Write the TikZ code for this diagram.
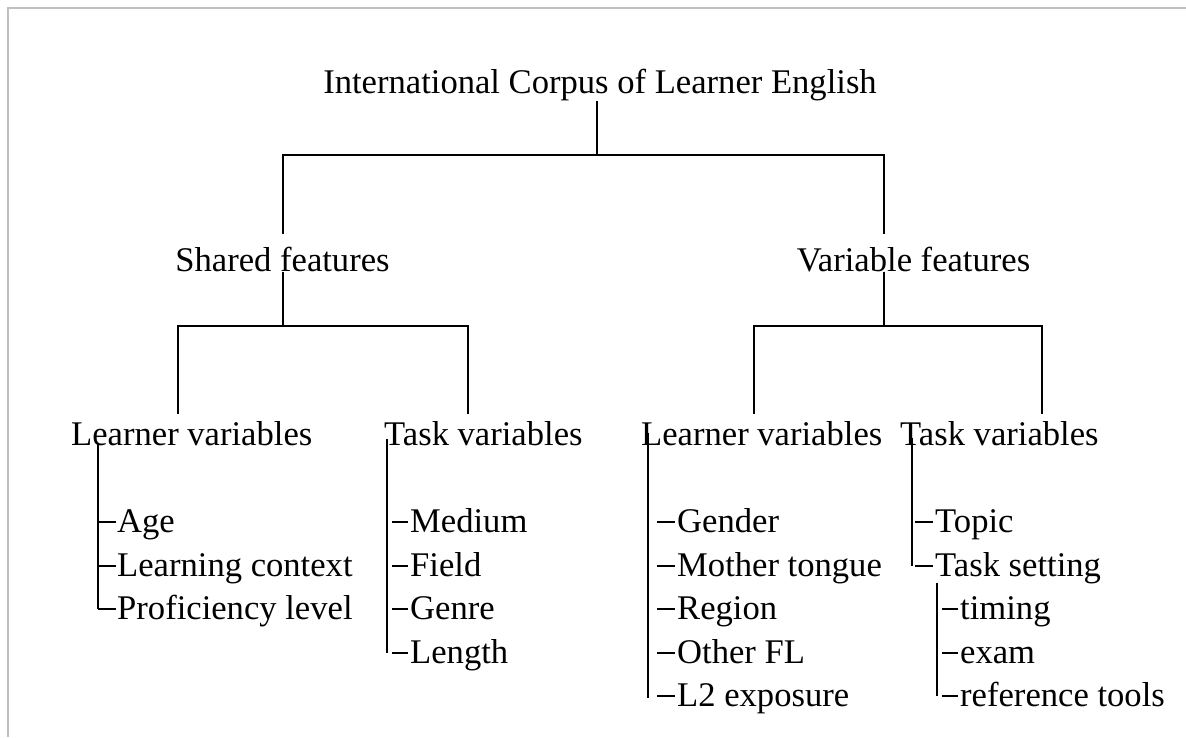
\documentclass[tikz,border=0pt]{standalone}
\usepackage{fontspec}
\setmainfont{Liberation Serif}
\definecolor{framegray}{RGB}{192,192,192}
\newcommand\tickto[3]{\draw[tick] ([xshift=-#2,yshift=10pt]#1.base west) -- ([xshift=-#3,yshift=10pt]#1.base west);}
\begin{document}
\begin{tikzpicture}[x=1pt,y=-1pt,
  conn/.style={line width=2pt},
  tick/.style={line width=1.8pt},
  lbl/.style={inner sep=0pt, font=\fontsize{34.6}{40}\selectfont}]
\useasboundingbox (0,0) rectangle (1186,737);
\fill[white] (0,0) rectangle (1186,737);
\draw[framegray, line width=1.2pt] (8,737) -- (8,8) -- (1186,8);

% main nodes
\node[lbl, anchor=base] (root) at (600,93) {International Corpus of Learner English};
\node[lbl, anchor=base] (sh) at (282.5,271) {Shared features};
\node[lbl, anchor=base] (vf) at (913.5,271) {Variable features};
\node[lbl, anchor=base west] (lv1) at (71,445) {Learner variables};
\node[lbl, anchor=base west] (tv1) at (384,445) {Task variables};
\node[lbl, anchor=base west] (lv2) at (641,445) {Learner variables};
\node[lbl, anchor=base west] (tv2) at (900,445) {Task variables};

% leaf items
\node[lbl, anchor=base west] (age) at (117,532) {Age};
\node[lbl, anchor=base west] (lcon) at (117,576) {Learning context};
\node[lbl, anchor=base west] (prof) at (117,619) {Proficiency level};

\node[lbl, anchor=base west] (med) at (410,532) {Medium};
\node[lbl, anchor=base west] (fld) at (410,576) {Field};
\node[lbl, anchor=base west] (gen) at (410,619) {Genre};
\node[lbl, anchor=base west] (len) at (410,663) {Length};

\node[lbl, anchor=base west] (gdr) at (677,532) {Gender};
\node[lbl, anchor=base west] (mt) at (677,576) {Mother tongue};
\node[lbl, anchor=base west] (reg) at (677,619) {Region};
\node[lbl, anchor=base west] (ofl) at (677,663) {Other FL};
\node[lbl, anchor=base west] (l2e) at (677,706) {L2 exposure};

\node[lbl, anchor=base west] (top) at (935,532) {Topic};
\node[lbl, anchor=base west] (tset) at (935,576) {Task setting};
\node[lbl, anchor=base west] (tim) at (960,619) {timing};
\node[lbl, anchor=base west] (exm) at (960,663) {exam};
\node[lbl, anchor=base west] (rt) at (960,706) {reference tools};

% junction coordinates
\coordinate (j0) at (597,155);
\coordinate (xs) at (283,0);
\coordinate (xv) at (884,0);
\coordinate (js) at (283,326);
\coordinate (jv) at (884,326);
\coordinate (xl1) at (178,0);
\coordinate (xt1) at (468,0);
\coordinate (xl2) at (754,0);
\coordinate (xt2) at (1042,0);

% upper tree
\draw[conn] (j0 |- root.south) -- (j0);
\draw[conn, shorten <=12pt, shorten >=12pt] (xs |- sh.north) -- (xs |- j0) -- (xv |- j0) -- (xv |- vf.north);
\draw[conn] (xs |- sh.south) -- (js);
\draw[conn, shorten <=7pt, shorten >=7pt] (xl1 |- lv1.north) -- (xl1 |- js) -- (xt1 |- js) -- (xt1 |- tv1.north);
\draw[conn] (xv |- vf.south) -- (jv);
\draw[conn, shorten <=7pt, shorten >=7pt] (xl2 |- lv2.north) -- (xl2 |- jv) -- (xt2 |- jv) -- (xt2 |- tv2.north);

% leaf lists
\coordinate (a1) at (98,0);
\coordinate (a2) at (387,0);
\coordinate (a3) at (648,0);
\coordinate (a4) at (912,0);
\coordinate (a5) at (937,0);
\coordinate (e1) at ([yshift=10pt]prof.base west);
\coordinate (e2) at ([yshift=10pt]len.base west);
\coordinate (e3) at ([yshift=8pt]l2e.base west);
\coordinate (e4) at ([yshift=10pt]tset.base west);
\coordinate (e5) at ([yshift=10pt]rt.base west);

\draw[conn, shorten <=-2pt] (a1 |- lv1.south) -- (a1 |- e1);
\tickto{age}{19pt}{1pt}
\tickto{lcon}{19pt}{1pt}
\tickto{prof}{19pt}{1pt}

\draw[conn, shorten <=-7pt] (a2 |- tv1.south) -- (a2 |- e2);
\tickto{med}{18pt}{2pt}
\tickto{fld}{18pt}{2pt}
\tickto{gen}{18pt}{2pt}
\tickto{len}{18pt}{2pt}

\draw[conn, shorten <=-13pt] (a3 |- lv2.south) -- (a3 |- e3);
\tickto{gdr}{20pt}{2pt}
\tickto{mt}{20pt}{2pt}
\tickto{reg}{20pt}{2pt}
\tickto{ofl}{20pt}{2pt}
\tickto{l2e}{20pt}{2pt}

\draw[conn, shorten <=-8pt] (a4 |- tv2.south) -- (a4 |- e4);
\tickto{top}{20pt}{2pt}
\tickto{tset}{20pt}{2pt}

\draw[conn, shorten <=-1pt] (a5 |- tset.south) -- (a5 |- e5);
\tickto{tim}{18pt}{2pt}
\tickto{exm}{18pt}{2pt}
\tickto{rt}{18pt}{2pt}
\end{tikzpicture}
\end{document}
